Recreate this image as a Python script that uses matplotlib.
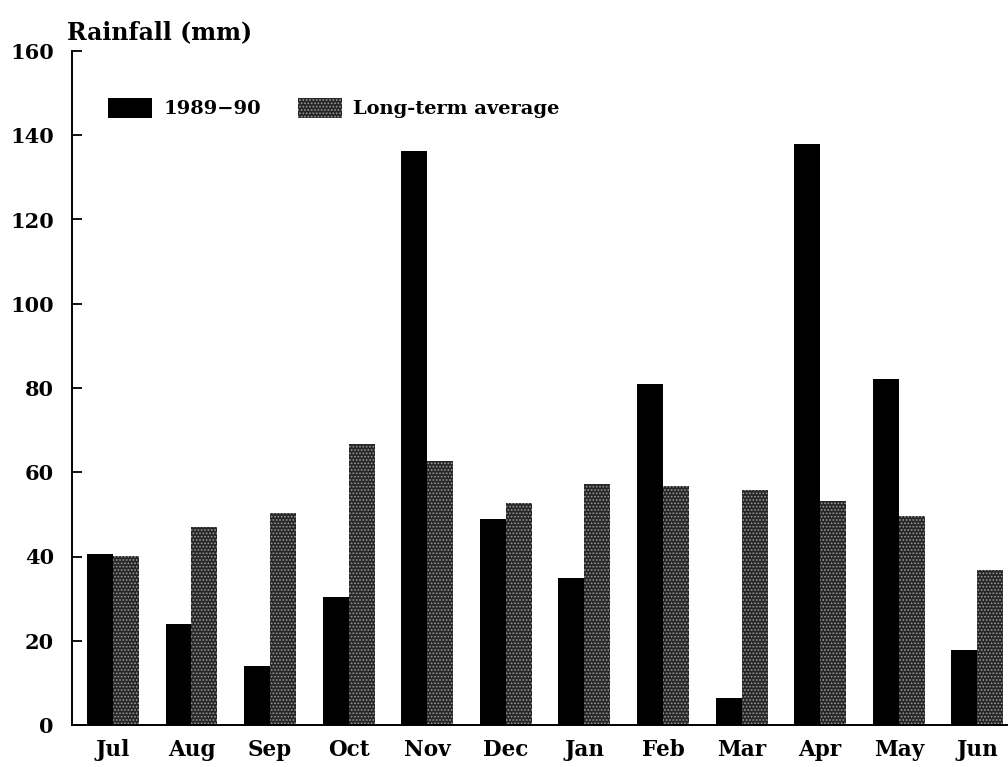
import matplotlib
matplotlib.use("Agg")
import matplotlib.pyplot as plt
import numpy as np

months = ["Jul", "Aug", "Sep", "Oct", "Nov", "Dec", "Jan", "Feb", "Mar", "Apr", "May", "Jun"]
rain_1989_90 = [40.5, 24, 14, 30.3, 136.3, 48.8, 35, 81, 6.3, 138, 82.2, 17.8]
rain_longterm = [40.2, 47.1, 50.4, 66.7, 62.7, 52.8, 57.3, 56.8, 55.9, 53.1, 49.5, 36.8]
yticks = [0, 20, 40, 60, 80, 100, 120, 140, 160]

plt.rcParams['font.family'] = ['DejaVu Serif']
plt.rcParams['font.weight'] = 'bold'
plt.rcParams['hatch.color'] = '#9a9a9a'
plt.rcParams['hatch.linewidth'] = 0.8

W, H = 1008, 767
fig = plt.figure(figsize=(W / 100, H / 100), dpi=100)
ax = fig.add_axes([72 / W, 1 - 725 / H, (1008 - 72) / W, (725 - 51) / H])

x = np.arange(len(months))
w = 0.33
ax.bar(x - w / 2, rain_1989_90, width=w, color='black', linewidth=0, label='1989−90')
ax.bar(x + w / 2, rain_longterm, width=w, facecolor='#262626', linewidth=0,
       hatch='.....', label='Long-term average')

ax.set_xlim(-0.52, 11.39)
ax.set_ylim(0, 160)
ax.set_yticks(yticks)
ax.set_xticks(x)
ax.set_xticklabels(months)
ax.tick_params(axis='y', direction='in', length=7.5, width=1.3, pad=13, labelsize=15)
ax.tick_params(axis='x', length=0, pad=10, labelsize=15.5)
for lab in ax.get_xticklabels() + ax.get_yticklabels():
    lab.set_fontweight('bold')

for s in ['top', 'right']:
    ax.spines[s].set_visible(False)
for s in ['left', 'bottom']:
    ax.spines[s].set_linewidth(1.4)

fig.text(67 / W, 1 - 32 / H, "Rainfall (mm)", fontsize=17, fontweight='bold',
         ha='left', va='center')

leg = ax.legend(loc='center left', bbox_to_anchor=(108 / W, 1 - 108 / H),
                bbox_transform=fig.transFigure, ncol=2, frameon=False,
                fontsize=14, handlelength=2.27, handleheight=1.24,
                handletextpad=0.57, columnspacing=1.9, borderpad=0, borderaxespad=0)
for t in leg.get_texts():
    t.set_fontweight('bold')

fig.savefig("out.png", dpi=100)
